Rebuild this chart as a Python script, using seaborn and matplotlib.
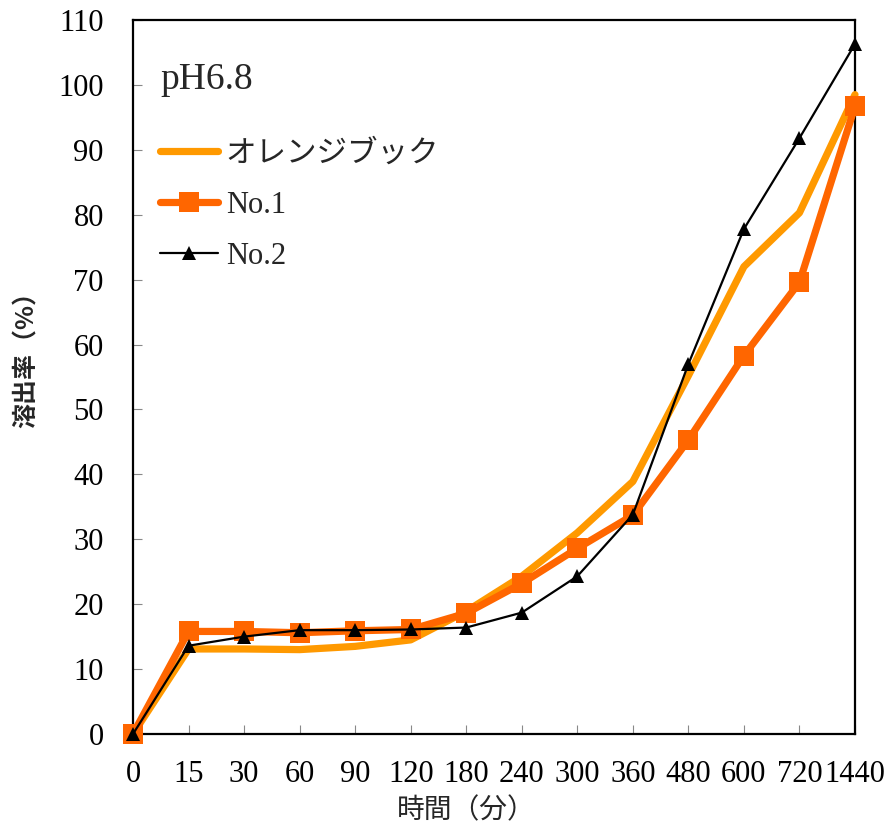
import matplotlib
matplotlib.use("Agg")
import matplotlib.pyplot as plt
import seaborn as sns
import pandas as pd

# Sampling times (minutes) and dissolution rates (%) at pH 6.8
time_labels = ["0", "15", "30", "60", "90", "120", "180", "240", "300",
               "360", "480", "600", "720", "1440"]
orange_book = [0, 13.1, 13.1, 13.0, 13.5, 14.5, 18.9, 24.3, 31.0,
               38.9, 55.2, 72.0, 80.3, 98.5]
no1 = [0, 15.8, 15.8, 15.6, 15.9, 16.1, 18.6, 23.2, 28.6,
       33.7, 45.3, 58.3, 69.6, 96.7]
no2 = [0, 13.6, 15.0, 16.0, 16.0, 16.1, 16.4, 18.7, 24.3,
       33.8, 57.0, 77.8, 91.8, 106.3]
series_names = ["オレンジブック", "No.1", "No.2"]

sns.set_theme(style="white")
plt.rcParams["font.family"] = ["Liberation Serif", "Noto Sans CJK JP", "DejaVu Sans"]

fig = plt.figure(figsize=(8.9, 8.27), dpi=100)
ax = fig.add_axes([133 / 890, 1 - 734 / 827, 722 / 890, 714 / 827])

pos = list(range(len(time_labels)))
df = pd.DataFrame({"pos": pos, "ob": orange_book, "n1": no1, "n2": no2})

sns.lineplot(data=df, x="pos", y="ob", ax=ax, color="#FF9900", linewidth=5.2,
             label=series_names[0], clip_on=False, zorder=3,
             solid_capstyle="round")
sns.lineplot(data=df, x="pos", y="n1", ax=ax, color="#FF6600", linewidth=5.2,
             marker="s", markersize=14, markeredgewidth=0, label=series_names[1],
             clip_on=False, zorder=4, solid_capstyle="round")
sns.lineplot(data=df, x="pos", y="n2", ax=ax, color="black", linewidth=1.6,
             marker="^", markersize=10, markeredgewidth=0, label=series_names[2],
             clip_on=False, zorder=5)

ax.set_xlim(0, len(time_labels) - 1)
ax.set_ylim(0, 110)
ax.set_xticks(pos)
ax.set_xticklabels(time_labels)
ax.set_yticks(range(0, 111, 10))

for side in ["left", "right", "top", "bottom"]:
    ax.spines[side].set_visible(True)
    ax.spines[side].set_color("black")
    ax.spines[side].set_linewidth(1.6)

ax.tick_params(axis="both", direction="in", length=6.5, width=0.8,
               color="#888888", labelsize=22, labelcolor="black")
ax.tick_params(axis="y", pad=21, left=True)
ax.tick_params(axis="x", pad=19, bottom=True)

ax.set_xlabel("時間（分）", fontsize=20, family=["Noto Sans CJK JP"])
ax.xaxis.set_label_coords((466 - 133) / 722, (734 - 810) / 714)
ax.xaxis.label.set_va("center")
ax.set_ylabel("溶出率（%）", fontsize=18, fontweight="semibold",
              family=["Noto Sans CJK JP"])
ax.yaxis.set_label_coords((27 - 133) / 722, (734 - 353) / 714)
ax.yaxis.label.set_va("center")

ax.text((160 - 133) / 722, (734 - 80) / 714, "pH6.8", transform=ax.transAxes,
        fontsize=27, ha="left", va="center")

leg = ax.legend(loc="upper left", bbox_to_anchor=((160 - 133) / 722, (734 - 140) / 714),
                frameon=False, fontsize=22, handlelength=1.9, handletextpad=0.25,
                labelspacing=0.72, borderpad=0, borderaxespad=0)
for h in leg.legend_handles:
    h.set_solid_capstyle("round")

fig.savefig("out.png", dpi=100)
